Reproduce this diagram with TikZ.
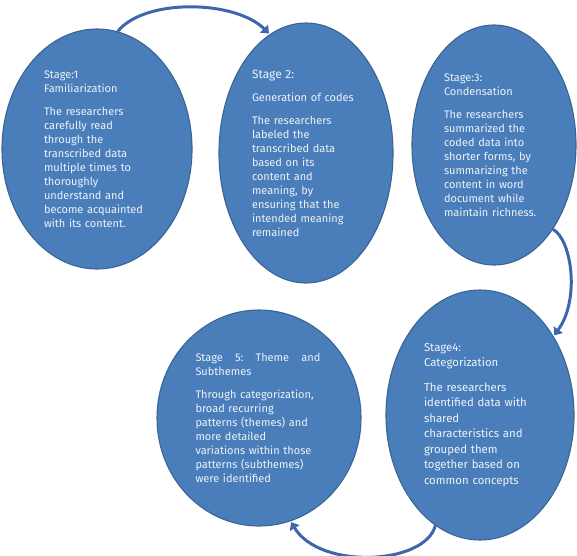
\documentclass[tikz,border=0pt]{standalone}
\usepackage{fontspec}
\setmainfont{Fira Sans}
\usepackage{tikz}
\usetikzlibrary{arrows.meta,positioning,shapes.geometric}
\definecolor{cFill}{HTML}{4A7EBB}
\definecolor{cEdge}{HTML}{3A6494}
\definecolor{cArrow}{HTML}{3D66AD}
\definecolor{cText}{HTML}{EEF2F8}

\begin{document}
\begin{tikzpicture}[
  x=1pt, y=1pt,
  font=\fontsize{11}{14}\selectfont,
  stage/.style={ellipse, draw=cEdge, line width=1.1pt, fill=cFill,
    text=cText, align=left, inner sep=0pt},
  cyc/.style={-{Triangle[length=7pt,width=11pt]}, line width=3pt, color=cArrow,
    shorten >=1pt},
]
\useasboundingbox (0,0) rectangle (577,-555);
% ---------------------------------------------------------------- top row
\node[stage, minimum width=190, minimum height=240, text width=106]
  (s1) at (97,-149) {Stage:1\\Familiarization\\[9pt]
  The researchers\\carefully read\\through the\\transcribed data\\
  multiple times to\\thoroughly\\understand and\\become acquainted\\
  with its content.};
\node[stage, minimum width=174, minimum height=260, text width=108]
  (s2) at (306,-153) {{\fontsize{12}{14}\selectfont Stage 2:}\\[9pt]
  Generation of codes\\[9pt]
  The researchers\\labeled the\\transcribed data\\based on its\\
  content and\\meaning, by\\ensuring that the\\intended meaning\\remained};
\node[stage, minimum width=164, minimum height=240, text width=100]
  (s3) at (494,-145) {Stage:3:\\Condensation\\[9pt]
  The researchers\\summarized the\\coded data into\\shorter forms, by\\
  summarizing the\\content in word\\document while\\maintain richness.};
% ---------------------------------------------------------------- bottom row
\node[stage, minimum width=188, minimum height=250, text width=112,
  font=\fontsize{11.4}{15.5}\selectfont]
  (s4) at (480,-415) {Stage4:\\Categorization\\[9pt]
  The researchers\\identified data with\\shared\\characteristics and\\
  grouped them\\together based on\\common concepts};
\node[stage, minimum width=204, minimum height=216, text width=127]
  (s5) at (259,-418) {\makebox[125pt][l]{Stage\hfill 5:\hfill Theme\hfill and}\\Subthemes\\[9pt]
  Through categorization,\\broad recurring\\patterns (themes) and\\
  more detailed\\variations within those\\patterns (subthemes)\\
  were identified};
% ---------------------------------------------------------------- arrows
\draw[cyc] (s1.80) .. controls (145,2) and (235,0) .. (s2.107);
\draw[cyc] (s3.-55) .. controls (572,-240) and (580,-300) .. (s4.47);
\draw[cyc] (s4.-112) .. controls (425,-565) and (320,-570) .. (s5.-73);
\end{tikzpicture}
\end{document}
